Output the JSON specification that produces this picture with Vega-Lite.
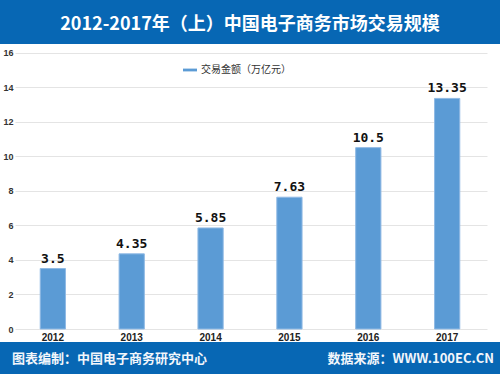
{
  "$schema": "https://vega.github.io/schema/vega-lite/v6.json",
  "padding": 0,
  "spacing": 0,
  "background": "white",
  "config": {"view": {"stroke": null}},
  "datasets": {
    "trade": [
      {"year": "2012", "value": 3.5, "series": "交易金额（万亿元）"},
      {"year": "2013", "value": 4.35, "series": "交易金额（万亿元）"},
      {"year": "2014", "value": 5.85, "series": "交易金额（万亿元）"},
      {"year": "2015", "value": 7.63, "series": "交易金额（万亿元）"},
      {"year": "2016", "value": 10.5, "series": "交易金额（万亿元）"},
      {"year": "2017", "value": 13.35, "series": "交易金额（万亿元）"}
    ],
    "header": [{"title": "2012-2017年（上）中国电子商务市场交易规模"}],
    "footer": [{"left": "图表编制：中国电子商务研究中心", "right": "数据来源：WWW.100EC.CN"}]
  },
  "vconcat": [
    {
      "width": 500,
      "height": 44,
      "view": {"fill": "#0767b4", "stroke": null},
      "data": {"name": "header"},
      "mark": {"type": "text", "font": "Noto Sans CJK SC", "fontWeight": "bold", "fontSize": 18, "color": "white", "baseline": "middle", "dy": 3},
      "encoding": {"text": {"field": "title"}}
    },
    {
      "width": 500,
      "height": 285,
      "data": {"name": "trade"},
      "encoding": {
        "x": {
          "field": "year", "type": "nominal", "sort": null,
          "scale": {"paddingInner": 0.68, "paddingOuter": 0.51},
          "axis": {"title": null, "labelAngle": 0, "ticks": false, "domain": false, "grid": false, "labelFont": "Liberation Sans", "labelFontWeight": "bold", "labelFontSize": 10, "labelColor": "#222", "labelPadding": 3}
        }
      },
      "layer": [
        {
          "mark": {"type": "bar", "stroke": "#8fb9e4", "strokeWidth": 1},
          "encoding": {
            "y": {
              "field": "value", "type": "quantitative",
              "scale": {"domain": [0, 16.5], "nice": false},
              "axis": {"orient": "left", "offset": -15, "title": null, "values": [0, 2, 4, 6, 8, 10, 12, 14, 16], "ticks": false, "domain": false, "grid": false, "labelFont": "Liberation Sans", "labelFontWeight": "bold", "labelFontSize": 9, "labelColor": "#333", "labelPadding": 2, "zindex": 0}
            },
            "color": {
              "field": "series", "type": "nominal",
              "scale": {"range": ["#5b9bd5"]},
              "legend": {"orient": "none", "legendX": 183, "legendY": 63, "title": null, "symbolType": "M-1,-0.2H1V0.2H-1Z", "symbolSize": 196, "symbolStrokeWidth": 0, "labelFont": "Noto Sans CJK SC", "labelFontSize": 10, "labelColor": "#333", "labelOffset": 4}
            }
          }
        },
        {
          "mark": {"type": "text", "font": "DejaVu Sans Mono", "fontWeight": "bold", "fontSize": 13, "color": "#111", "baseline": "alphabetic", "dy": -6},
          "encoding": {
            "y": {
              "field": "value", "type": "quantitative",
              "axis": {"orient": "right", "offset": -13, "title": null, "values": [0, 2, 4, 6, 8, 10, 12, 14, 16], "labels": false, "domain": false, "grid": false, "ticks": true, "tickSize": -472, "tickColor": "#e4e4e4", "tickWidth": 1, "zindex": 0}
            },
            "text": {"field": "value", "type": "quantitative"}
          }
        }
      ],
      "resolve": {"axis": {"y": "independent"}}
    },
    {
      "width": 500,
      "height": 32,
      "view": {"fill": "#0767b4", "stroke": null},
      "data": {"name": "footer"},
      "layer": [
        {
          "mark": {"type": "text", "font": "Noto Sans CJK SC", "fontWeight": "bold", "fontSize": 13, "color": "#f2f6fb", "align": "left", "baseline": "middle", "dx": 12, "dy": 1},
          "encoding": {
            "x": {"datum": 0, "type": "quantitative", "scale": {"domain": [0, 1]}, "axis": null},
            "text": {"field": "left"}
          }
        },
        {
          "mark": {"type": "text", "font": "Noto Sans CJK SC", "fontWeight": "bold", "fontSize": 13, "color": "#f2f6fb", "align": "right", "baseline": "middle", "dx": -6, "dy": 1},
          "encoding": {
            "x": {"datum": 1, "type": "quantitative", "scale": {"domain": [0, 1]}, "axis": null},
            "text": {"field": "right"}
          }
        }
      ]
    }
  ]
}
